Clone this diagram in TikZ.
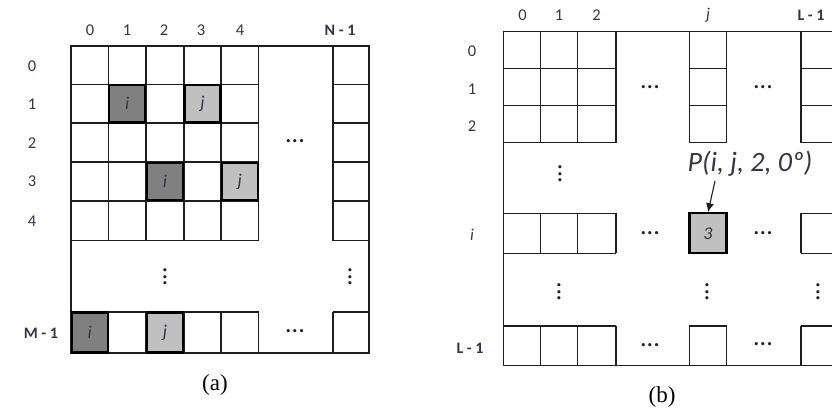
\documentclass[tikz,border=0pt]{standalone}
\usepackage{fontspec}
\usepackage{graphicx}
\setmainfont{Liberation Serif}
\newfontfamily\calib{Carlito}
\usetikzlibrary{arrows.meta}
\definecolor{labelc}{RGB}{58,50,72}
\definecolor{gridc}{RGB}{30,30,30}
\definecolor{darkcell}{RGB}{128,128,128}
\definecolor{lightcell}{RGB}{192,192,192}
\tikzset{
  gridline/.style={draw=gridc, line width=1.1pt},
  lbl/.style={font=\calib\fontsize{16.5}{16.5}\selectfont, text=labelc, inner sep=0pt},
  blbl/.style={font=\calib\bfseries\fontsize{16}{16}\selectfont, text=labelc, inner sep=0pt},
  ilbl/.style={font=\calib\itshape\fontsize{16.5}{16.5}\selectfont, text=labelc, inner sep=0pt},
  hcell/.style={draw=black, line width=2.2pt, minimum width=36pt, minimum height=37.5pt, inner sep=0pt, font=\calib\itshape\fontsize{18}{18}\selectfont, text=labelc},
  dkcell/.style={hcell, fill=darkcell},
  ltcell/.style={hcell, fill=lightcell},
  hdots/.style={inner sep=0pt, text=gridc, font=\calib\fontsize{26}{26}\selectfont},
  vdotsn/.style={hdots, rotate=90},
  caption/.style={font=\fontsize{23}{23}\selectfont, inner sep=0pt},
  plabel/.style={font=\calib\itshape\fontsize{28}{28}\selectfont, text=labelc, inner sep=0pt},
}
\begin{document}
\begin{tikzpicture}[x=1pt,y=-1pt]
\useasboundingbox (0,0) rectangle (832,409);
% ---------------- panel (a) ----------------
\def\Xa{71}\def\Xb{108.5}\def\Xc{146}\def\Xd{184}\def\Xe{221}\def\Xf{258.5}
\def\XNa{333}\def\XNb{369}
\def\Ya{46}\def\Yb{84.5}\def\Yc{123}\def\Yd{162}\def\Ye{201}\def\Yf{240.5}
\def\YMa{312}\def\YMb{353}
% frame
\draw[gridline] (\Xa,\Ya) -- (\XNb,\Ya) -- (\XNb,\YMb) -- (\Xa,\YMb) -- cycle;
% rows 0..4 block
\foreach \y in {\Yb,\Yc,\Yd,\Ye,\Yf} \draw[gridline] (\Xa,\y) -- (\Xf,\y);
\foreach \x in {\Xb,\Xc,\Xd,\Xe,\Xf} \draw[gridline] (\x,\Ya) -- (\x,\Yf);
% N-1 column
\draw[gridline] (\XNa,\Ya) -- (\XNa,\Yf);
\foreach \y in {\Yb,\Yc,\Yd,\Ye,\Yf} \draw[gridline] (\XNa,\y) -- (\XNb,\y);
% M-1 row
\draw[gridline] (\Xa,\YMa) -- (\Xf,\YMa);
\draw[gridline] (\XNa,\YMa) -- (\XNb,\YMa);
\foreach \x in {\Xb,\Xc,\Xd,\Xe,\Xf,\XNa} \draw[gridline] (\x,\YMa) -- (\x,\YMb);
% highlighted cells
\node[dkcell] (a-i1) at (127.25,103.75) {i};
\node[ltcell] (a-j1) at (202.5,103.75) {j};
\node[dkcell] (a-i3) at (165,181.5) {i};
\node[ltcell] (a-j3) at (239.75,181.5) {j};
\node[dkcell, minimum height=40pt] (a-iM) at (89.75,332.5) {i};
\node[ltcell, minimum height=40pt] (a-jM) at (165,332.5) {j};
% column labels
\node[lbl] (a-c0) at (90,30) {0};
\node[lbl] (a-c1) at (127,30) {1};
\node[lbl] (a-c2) at (164,30) {2};
\node[lbl] (a-c3) at (201,30) {3};
\node[lbl] (a-c4) at (240,30) {4};
\node[blbl] (a-cN) at (340,30) {N - 1};
% row labels
\node[lbl] (a-r0) at (32,66) {0};
\node[lbl] (a-r1) at (32,104) {1};
\node[lbl] (a-r2) at (32,143) {2};
\node[lbl] (a-r3) at (32,181.5) {3};
\node[lbl] (a-r4) at (32,221) {4};
\node[blbl] (a-rM) at (41,333) {M - 1};
% dots
\node[hdots] (a-d1) at (295,141) {...};
\node[hdots] (a-d2) at (295,331) {...};
\node[vdotsn] (a-v1) at (165,277) {...};
\node[vdotsn] (a-v2) at (350,277) {...};
\node[caption] (capa) at (215,385) {(a)};
% ---------------- panel (b) ----------------
\def\Ba{503.3}\def\Bb{540.7}\def\Bc{577.3}\def\Bd{616}
\def\BJa{689.3}\def\BJb{726.7}\def\BLa{801}\def\BR{840}
\def\Ca{31.7}\def\Cb{68.3}\def\Cc{105.7}\def\Cd{142.7}
\def\CIa{213.3}\def\CIb{253.3}\def\CLa{326}\def\CLb{365.7}
\draw[gridline] (\BR,\Ca) -- (\Ba,\Ca) -- (\Ba,\CLb) -- (\BR,\CLb);
% rows 0..2
\foreach \y in {\Cb,\Cc,\Cd} {
  \draw[gridline] (\Ba,\y) -- (\Bd,\y);
  \draw[gridline] (\BJa,\y) -- (\BJb,\y);
  \draw[gridline] (\BLa,\y) -- (\BR,\y);
}
\foreach \x in {\Bb,\Bc,\Bd,\BJa,\BJb,\BLa} \draw[gridline] (\x,\Ca) -- (\x,\Cd);
% row i
\foreach \y in {\CIa,\CIb} {
  \draw[gridline] (\Ba,\y) -- (\Bd,\y);
  \draw[gridline] (\BLa,\y) -- (\BR,\y);
}
\foreach \x in {\Bb,\Bc,\Bd,\BLa} \draw[gridline] (\x,\CIa) -- (\x,\CIb);
% row L-1
\draw[gridline] (\Ba,\CLa) -- (\Bd,\CLa);
\draw[gridline] (\BJa,\CLa) -- (\BJb,\CLa);
\draw[gridline] (\BLa,\CLa) -- (\BR,\CLa);
\foreach \x in {\Bb,\Bc,\Bd,\BJa,\BJb,\BLa} \draw[gridline] (\x,\CLa) -- (\x,\CLb);
% highlighted cell
\node[ltcell, minimum width=37pt, minimum height=40pt] (b-cell) at (708,233.3) {3};
% labels
\node[lbl] (b-c0) at (522.5,15) {0};
\node[lbl] (b-c1) at (559,15) {1};
\node[lbl] (b-c2) at (596.5,15) {2};
\node[ilbl] (b-cj) at (708,15) {j};
\node[blbl] (b-cL) at (811,15) {L - 1};
\node[lbl] (b-r0) at (472,51.5) {0};
\node[lbl] (b-r1) at (472,89.5) {1};
\node[lbl] (b-r2) at (472,126.5) {2};
\node[ilbl] (b-ri) at (472,235) {i};
\node[blbl] (b-rL) at (470,348) {L - 1};
% dots
\node[hdots] (b-d1) at (650,87) {...};
\node[hdots] (b-d2) at (763,87) {...};
\node[hdots] (b-d3) at (650,233) {...};
\node[hdots] (b-d4) at (763,233) {...};
\node[hdots] (b-d5) at (650,345) {...};
\node[hdots] (b-d6) at (763,344) {...};
\node[vdotsn] (b-v1) at (560,174) {...};
\node[vdotsn] (b-v2) at (559,292) {...};
\node[vdotsn] (b-v3) at (707,292) {...};
\node[vdotsn] (b-v4) at (818,292) {...};
% P label and arrow
\node[plabel] (plab) at (750,164) {P(i, j, 2, 0º)};
\coordinate (arrstart) at (715,181);
\draw[draw=gridc, line width=1.1pt, -{Latex[length=9pt,width=8pt]}] (arrstart) -- (b-cell.north);
\node[caption] (capb) at (662,397) {(b)};
\end{tikzpicture}
\end{document}
